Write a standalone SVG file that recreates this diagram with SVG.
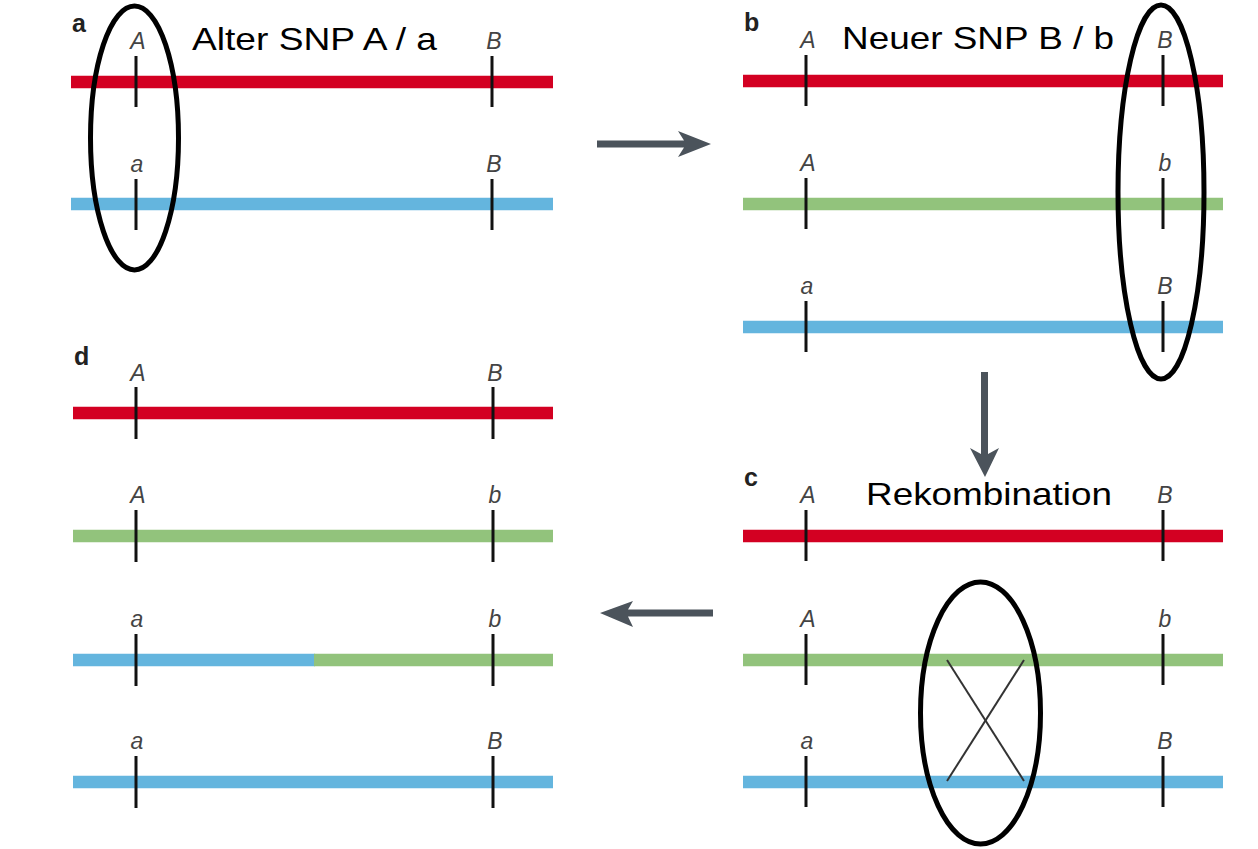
<svg xmlns="http://www.w3.org/2000/svg" width="1258" height="849" viewBox="0 0 1258 849">
<style>
.red{stroke:#d30022;stroke-width:12.5;fill:none}
.green{stroke:#92c37c;stroke-width:12.5;fill:none}
.blue{stroke:#64b5de;stroke-width:12.5;fill:none}
.tick{stroke:#111;stroke-width:3;fill:none}
.lab{font-family:"Liberation Sans",Arial,sans-serif;font-style:italic;font-size:23px;fill:#444;text-anchor:middle}
.pan{font-family:"Liberation Sans",Arial,sans-serif;font-weight:bold;font-size:25px;fill:#222}
.title{font-family:"Liberation Sans",Arial,sans-serif;font-size:32px;fill:#000}
.ell{fill:none;stroke:#000;stroke-width:5}
.arr{fill:#4b535b}
</style>
<rect width="1258" height="849" fill="#fff"/>

<g id="panel-a">
  <text class="pan" x="72" y="32">a</text>
  <g id="a-chr1">
    <line class="red" x1="71" y1="82" x2="553" y2="82"/>
    <line class="tick" x1="136" y1="56" x2="136" y2="107"/>
    <line class="tick" x1="492" y1="56" x2="492" y2="107"/>
    <text class="lab" x="138" y="49">A</text>
    <text class="lab" x="494" y="49">B</text>
  </g>
  <g id="a-chr2">
    <line class="blue" x1="71" y1="204" x2="553" y2="204"/>
    <line class="tick" x1="136" y1="179" x2="136" y2="230"/>
    <line class="tick" x1="492" y1="179" x2="492" y2="230"/>
    <text class="lab" x="137" y="172">a</text>
    <text class="lab" x="494" y="172">B</text>
  </g>
  <ellipse id="a-ellipse" class="ell" cx="134.5" cy="138" rx="44" ry="132"/>
  <text class="title" x="192" y="50" textLength="245" lengthAdjust="spacingAndGlyphs">Alter SNP A / a</text>
</g>

<g id="panel-b">
  <text class="pan" x="744" y="31">b</text>
  <g id="b-chr1">
    <line class="red" x1="743" y1="81" x2="1223" y2="81"/>
    <line class="tick" x1="806" y1="55" x2="806" y2="106"/>
    <line class="tick" x1="1163" y1="55" x2="1163" y2="106"/>
    <text class="lab" x="808" y="48">A</text>
    <text class="lab" x="1165" y="48">B</text>
  </g>
  <g id="b-chr2">
    <line class="green" x1="743" y1="204" x2="1223" y2="204"/>
    <line class="tick" x1="806" y1="178" x2="806" y2="229"/>
    <line class="tick" x1="1163" y1="178" x2="1163" y2="229"/>
    <text class="lab" x="808" y="171">A</text>
    <text class="lab" x="1165" y="171">b</text>
  </g>
  <g id="b-chr3">
    <line class="blue" x1="743" y1="327" x2="1223" y2="327"/>
    <line class="tick" x1="806" y1="301" x2="806" y2="352"/>
    <line class="tick" x1="1163" y1="301" x2="1163" y2="352"/>
    <text class="lab" x="807" y="294">a</text>
    <text class="lab" x="1165" y="294">B</text>
  </g>
  <ellipse id="b-ellipse" class="ell" cx="1161" cy="192" rx="43" ry="187"/>
  <text class="title" x="842" y="49" textLength="272" lengthAdjust="spacingAndGlyphs">Neuer SNP B / b</text>
</g>

<g id="panel-c">
  <text class="pan" x="744" y="486">c</text>
  <g id="c-chr1">
    <line class="red" x1="743" y1="536" x2="1223" y2="536"/>
    <line class="tick" x1="806" y1="510" x2="806" y2="561"/>
    <line class="tick" x1="1163" y1="510" x2="1163" y2="561"/>
    <text class="lab" x="808" y="503">A</text>
    <text class="lab" x="1165" y="503">B</text>
  </g>
  <g id="c-chr2">
    <line class="green" x1="743" y1="660" x2="1223" y2="660"/>
    <line class="tick" x1="806" y1="634" x2="806" y2="685"/>
    <line class="tick" x1="1163" y1="634" x2="1163" y2="685"/>
    <text class="lab" x="808" y="627">A</text>
    <text class="lab" x="1165" y="627">b</text>
  </g>
  <g id="c-chr3">
    <line class="blue" x1="743" y1="782" x2="1223" y2="782"/>
    <line class="tick" x1="806" y1="756" x2="806" y2="807"/>
    <line class="tick" x1="1163" y1="756" x2="1163" y2="807"/>
    <text class="lab" x="807" y="749">a</text>
    <text class="lab" x="1165" y="749">B</text>
  </g>
  <g id="c-cross">
    <line x1="947" y1="660" x2="1024" y2="781" stroke="#333" stroke-width="2"/>
    <line x1="1024" y1="660" x2="947" y2="781" stroke="#333" stroke-width="2"/>
  </g>
  <ellipse id="c-ellipse" class="ell" cx="980.5" cy="713" rx="60" ry="131"/>
  <text class="title" x="866" y="505" textLength="246" lengthAdjust="spacingAndGlyphs">Rekombination</text>
</g>

<g id="panel-d">
  <text class="pan" x="74" y="365">d</text>
  <g id="d-chr1">
    <line class="red" x1="73" y1="413" x2="553" y2="413"/>
    <line class="tick" x1="136" y1="387" x2="136" y2="439"/>
    <line class="tick" x1="493" y1="387" x2="493" y2="439"/>
    <text class="lab" x="138" y="381">A</text>
    <text class="lab" x="495" y="381">B</text>
  </g>
  <g id="d-chr2">
    <line class="green" x1="73" y1="536" x2="553" y2="536"/>
    <line class="tick" x1="136" y1="510" x2="136" y2="562"/>
    <line class="tick" x1="493" y1="510" x2="493" y2="562"/>
    <text class="lab" x="138" y="503">A</text>
    <text class="lab" x="495" y="503">b</text>
  </g>
  <g id="d-chr3">
    <line class="blue" x1="73" y1="660" x2="315" y2="660"/>
    <line class="green" x1="314" y1="660" x2="553" y2="660"/>
    <line class="tick" x1="136" y1="634" x2="136" y2="686"/>
    <line class="tick" x1="493" y1="634" x2="493" y2="686"/>
    <text class="lab" x="137" y="627">a</text>
    <text class="lab" x="495" y="627">b</text>
  </g>
  <g id="d-chr4">
    <line class="blue" x1="73" y1="782" x2="553" y2="782"/>
    <line class="tick" x1="136" y1="756" x2="136" y2="808"/>
    <line class="tick" x1="493" y1="756" x2="493" y2="808"/>
    <text class="lab" x="137" y="749">a</text>
    <text class="lab" x="495" y="749">B</text>
  </g>
</g>

<g id="connectors">
  <path id="arrow-a-b" class="arr" d="M597,140.5 L684,140.5 L678,131 L711,144 L678,157 L684,147.5 L597,147.5 Z"/>
  <path id="arrow-b-c" class="arr" d="M981,372 L988,372 L988,454 L999,448 L985,477 L970,448 L981,454 Z"/>
  <path id="arrow-c-d" class="arr" d="M713,609.5 L628,609.5 L633,601 L600,613 L633,627 L628,616.5 L713,616.5 Z"/>
</g>
</svg>
